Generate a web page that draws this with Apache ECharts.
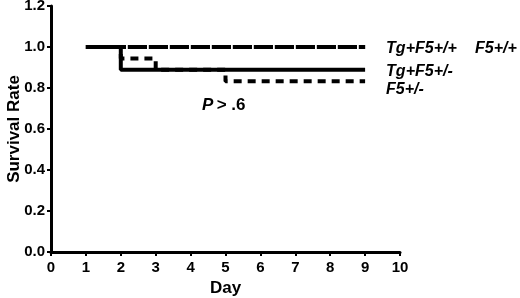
<!DOCTYPE html>
<html><head><meta charset="utf-8">
<script src="https://cdn.jsdelivr.net/npm/echarts@6/dist/echarts.min.js"></script>
<style>html,body{margin:0;padding:0;background:#fff}#c{width:520px;height:298px}</style>
</head><body><div id="c"></div>
<script>
var xTicks = [0,1,2,3,4,5,6,7,8,9,10];
var yTicks = [0.0,0.2,0.4,0.6,0.8,1.0,1.2];
var seriesNames = ['Tg+F5+/+','F5+/+','Tg+F5+/-','F5+/-'];
var daysTgPP = [1, 9];
var survTgPP = [1.0, 1.0];
var daysF5PP = [1, 9];
var survF5PP = [1.0, 1.0];
var daysTgPM = [1, 2, 9];
var survTgPM = [1.0, 0.889, 0.889];
var daysF5PM = [1, 2, 3, 5, 9];
var survF5PM = [1.0, 0.944, 0.889, 0.833, 0.833];
var pText = 'P > .6';

function pts(d, s){ return d.map(function(v,i){ return [v, s[i]]; }); }
var font = 'Liberation Sans, Arial, sans-serif';
var lblStyle = {show:true, color:'#000', fontFamily:font, fontWeight:'bold', fontStyle:'italic', fontSize:16, distance:21};

var chart = echarts.init(document.getElementById('c'), null, {renderer:'canvas'});
chart.setOption({
  animation:false,
  backgroundColor:'#fff',
  grid:{left:51, right:120, top:6, bottom:46, containLabel:false, outerBoundsMode:'none'},
  xAxis:{type:'value', min:0, max:10, interval:1,
    name:'Day', nameLocation:'middle', nameGap:28, nameMoveOverlap:false,
    nameTextStyle:{color:'#000', fontFamily:font, fontWeight:'bold', fontSize:17},
    axisLine:{show:true, lineStyle:{color:'#000', width:3}},
    axisTick:{show:true, length:4, lineStyle:{color:'#000', width:2}},
    axisLabel:{color:'#000', fontFamily:font, fontWeight:'bold', fontSize:15, margin:8,
      formatter:function(v){ return xTicks.indexOf(v)>=0 ? String(v) : ''; }},
    splitLine:{show:false}},
  yAxis:{type:'value', min:0, max:1.2, interval:0.2,
    name:'Survival Rate', nameLocation:'middle', nameGap:28, nameRotate:90, nameMoveOverlap:false,
    nameTextStyle:{color:'#000', fontFamily:font, fontWeight:'bold', fontSize:17},
    axisLine:{show:true, lineStyle:{color:'#000', width:3}},
    axisTick:{show:true, length:4, lineStyle:{color:'#000', width:2}},
    axisLabel:{color:'#000', fontFamily:font, fontWeight:'bold', fontSize:15, margin:6,
      formatter:function(v){ return v.toFixed(1); }},
    splitLine:{show:false}},
  graphic:[{type:'text', left:202, top:97,
    style:{text:'{i|P} {b|> .6}', rich:{
      i:{fontFamily:font, fontWeight:'bold', fontStyle:'italic', fontSize:17, fill:'#000'},
      b:{fontFamily:font, fontWeight:'bold', fontSize:17, fill:'#000'}}}}],
  series:[
    {name:seriesNames[0], type:'line', step:'end', symbol:'none', data:pts(daysTgPP, survTgPP),
      lineStyle:{color:'#000', width:4, type:[19,2]},
      endLabel:Object.assign({}, lblStyle, {formatter:seriesNames[0], offset:[0,2]})},
    {name:seriesNames[1], type:'line', step:'end', symbol:'none', data:pts(daysF5PP, survF5PP),
      lineStyle:{color:'#000', width:4, type:[19,2]},
      endLabel:Object.assign({}, lblStyle, {formatter:seriesNames[1], distance:110, offset:[0,2]})},
    {name:seriesNames[2], type:'line', step:'end', symbol:'none', data:pts(daysTgPM, survTgPM),
      lineStyle:{color:'#000', width:4, type:'solid'},
      endLabel:Object.assign({}, lblStyle, {formatter:seriesNames[2], offset:[0,2]})},
    {name:seriesNames[3], type:'line', step:'end', symbol:'none', data:pts(daysF5PM, survF5PM),
      lineStyle:{color:'#000', width:4, type:[8,6]},
      endLabel:Object.assign({}, lblStyle, {formatter:seriesNames[3], offset:[0,8]})}
  ]
});
</script></body></html>
